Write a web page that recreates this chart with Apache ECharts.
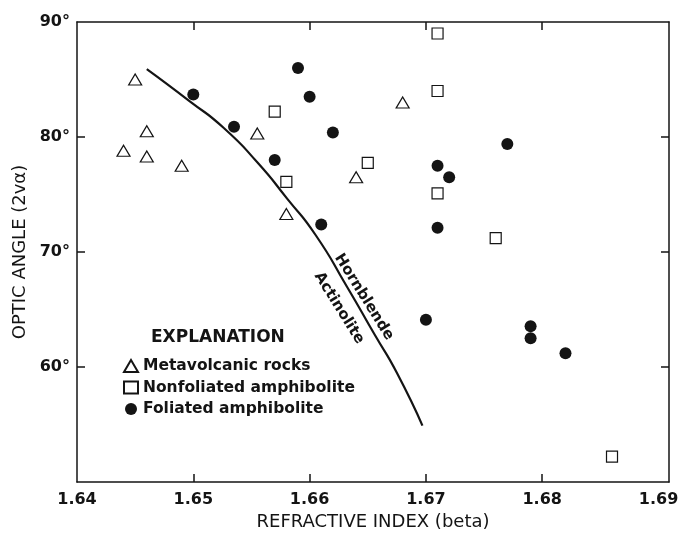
<!DOCTYPE html>
<html>
<head>
<meta charset="utf-8">
<script src="https://cdn.jsdelivr.net/npm/echarts@6/dist/echarts.min.js"></script>
<style>
    html, body { margin: 0; padding: 0; background: #fff; }
    #chart { width: 686px; height: 536px; }
</style>
</head>
<body>
<div id="chart"></div>
<script>
// metavolcanic rocks (open triangles)
var metaX = [1.645, 1.646, 1.644, 1.646, 1.649, 1.6555, 1.658, 1.664, 1.668];
var metaY = [85.0, 80.5, 78.8, 78.3, 77.5, 80.3, 73.3, 76.5, 83.0];
// nonfoliated amphibolite (open squares)
var nonfolX = [1.671, 1.671, 1.657, 1.665, 1.658, 1.671, 1.676, 1.686];
var nonfolY = [89.0, 84.0, 82.2, 77.75, 76.1, 75.1, 71.2, 52.2];
// foliated amphibolite (dots)
var folX = [1.650, 1.6535, 1.659, 1.660, 1.662, 1.657, 1.671, 1.672, 1.677, 1.661, 1.671, 1.670, 1.679, 1.679, 1.682];
var folY = [83.7, 80.9, 86.0, 83.5, 80.4, 78.0, 77.5, 76.5, 79.4, 72.4, 72.1, 64.1, 63.55, 62.5, 61.2];
// hornblende / actinolite boundary
var curveX = [1.6460, 1.6497, 1.6526, 1.6555, 1.6581, 1.6605, 1.6632, 1.6656, 1.6675, 1.6697];
var curveY = [85.9, 83.1, 80.8, 77.8, 74.6, 71.5, 67.0, 62.8, 59.5, 54.9];

// tick labels
var xLabels = [1.64, 1.65, 1.66, 1.67, 1.68, 1.69];
var xTicks = [1.65, 1.66, 1.67, 1.68];
var yLabels = [60, 70, 80, 90];
var yTicks = [60, 70, 80];

var seriesNames = ['Metavolcanic rocks', 'Nonfoliated amphibolite', 'Foliated amphibolite'];

function pairs(xs, ys) {
    var out = [];
    for (var i = 0; i < xs.length; i++) out.push([xs[i], ys[i]]);
    return out;
}

var ink = '#141414';
var font = 'DejaVu Sans';

var myChart = echarts.init(document.getElementById('chart'));

// the printed x scale runs a little past 1.69 at the right frame
var xMin = 1.64, xMax = 1.6909, yMin = 50, yMax = 90;

function frameAxis(extra) {
    return echarts.util.merge({
        type: 'value',
        axisLine: { show: true, onZero: false, lineStyle: { color: ink, width: 1.5 } },
        axisTick: { show: true, inside: true, length: 8, lineStyle: { color: ink, width: 1.5 } },
        axisLabel: { show: false },
        splitLine: { show: false }
    }, extra, true);
}

var option = {
    backgroundColor: '#fff',
    animation: false,
    grid: { left: 77, right: 17, top: 22, bottom: 49 },
    legend: {
        data: seriesNames,
        orient: 'vertical',
        left: 123,
        top: 358,
        padding: 0,
        itemWidth: 14,
        itemHeight: 12,
        itemGap: 5.5,
        selectedMode: false,
        textStyle: { fontFamily: font, fontSize: 15.5, fontWeight: 'bold', color: ink, lineHeight: 16 }
    },
    graphic: [
        { type: 'text', left: 151, top: 329,
          style: { text: 'EXPLANATION', fontFamily: font, fontSize: 17, fontWeight: 'bold', fill: ink } },
        { type: 'text', x: 364, y: 297, rotation: -58 * Math.PI / 180,
          style: { text: 'Hornblende', fontFamily: font, fontSize: 15, fontWeight: 'bold', fill: ink,
                   align: 'center', verticalAlign: 'middle' } },
        { type: 'text', x: 339, y: 308, rotation: -58 * Math.PI / 180,
          style: { text: 'Actinolite', fontFamily: font, fontSize: 15, fontWeight: 'bold', fill: ink,
                   align: 'center', verticalAlign: 'middle' } }
    ],
    xAxis: [
        frameAxis({
            position: 'bottom', min: xMin, max: xMax,
            name: 'REFRACTIVE INDEX (beta)', nameLocation: 'middle', nameGap: 40,
            nameTextStyle: { fontFamily: font, fontSize: 18, color: ink, verticalAlign: 'middle' },
            axisTick: { customValues: xTicks },
            axisLabel: { show: true, customValues: xLabels, margin: 10, fontFamily: font, fontSize: 16,
                         fontWeight: 'bold', color: ink,
                         formatter: function (v) { return v.toFixed(2); } }
        }),
        frameAxis({ position: 'top', min: xMin, max: xMax, axisTick: { customValues: xTicks } })
    ],
    yAxis: [
        frameAxis({
            position: 'left', min: yMin, max: yMax,
            name: 'OPTIC ANGLE (2vα)', nameLocation: 'middle', nameGap: 48, nameRotate: 90,
            nameTextStyle: { fontFamily: font, fontSize: 18, color: ink },
            axisTick: { customValues: yTicks },
            axisLabel: { show: true, customValues: yLabels, margin: 7, fontFamily: font, fontSize: 16,
                         fontWeight: 'bold', color: ink,
                         formatter: function (v) { return v + '°'; } }
        }),
        frameAxis({ position: 'right', min: yMin, max: yMax, axisTick: { customValues: yTicks } })
    ],
    series: [
        {
            name: seriesNames[0], type: 'scatter', symbol: 'triangle', symbolSize: [13, 11],
            itemStyle: { color: '#fff', borderColor: ink, borderWidth: 1.2, opacity: 1 },
            data: pairs(metaX, metaY)
        },
        {
            name: seriesNames[1], type: 'scatter', symbol: 'rect', symbolSize: 11,
            itemStyle: { color: '#fff', borderColor: ink, borderWidth: 1.2, opacity: 1 },
            data: pairs(nonfolX, nonfolY)
        },
        {
            name: seriesNames[2], type: 'scatter', symbol: 'circle', symbolSize: 12,
            itemStyle: { color: ink, opacity: 1 },
            data: pairs(folX, folY)
        },
        {
            name: 'boundary', type: 'line', smooth: 0.6,
            showSymbol: false, silent: true,
            lineStyle: { color: ink, width: 2.2 },
            data: pairs(curveX, curveY)
        }
    ]
};
myChart.setOption(option);
</script>
</body>
</html>
